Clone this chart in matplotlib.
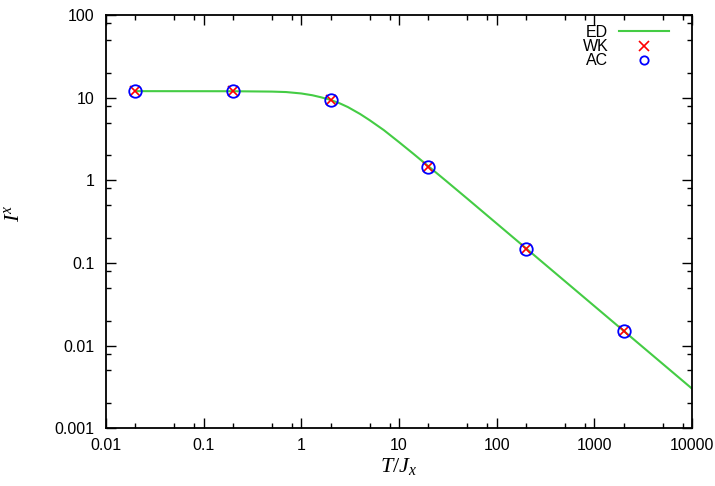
import matplotlib
matplotlib.use("Agg")
import matplotlib.pyplot as plt
from matplotlib.lines import Line2D
from matplotlib.ticker import LogLocator, NullFormatter, FixedLocator, FixedFormatter

# ED curve
ed_T = [0.02, 0.2, 0.5, 0.7, 1.0, 1.3, 1.6, 2.0, 2.5, 3.0, 4.0, 5.0, 7.0,
        10.0, 14.0, 20.0, 30.0, 50.0, 100.0, 200.0, 500.0, 1000.0, 2000.0,
        5000.0, 10000.0]
ed_I = [12.0, 11.97, 11.85, 11.7, 11.25, 10.7, 10.1, 9.4, 8.5, 7.7, 6.35,
        5.35, 4.05, 2.9, 2.1, 1.48, 0.995, 0.6, 0.3, 0.15, 0.06, 0.03,
        0.015, 0.006, 0.003]

# WK and AC points
pts_T = [0.02, 0.2, 2.0, 20.0, 200.0, 2000.0]
wk_I = [12.0, 12.0, 9.4, 1.46, 0.148, 0.0149]
ac_I = [12.0, 12.0, 9.4, 1.46, 0.148, 0.0149]

x_ticks = [0.01, 0.1, 1, 10, 100, 1000, 10000]
x_labels = ["0.01", "0.1", "1", "10", "100", "1000", "10000"]
y_ticks = [0.001, 0.01, 0.1, 1, 10, 100]
y_labels = ["0.001", "0.01", "0.1", "1", "10", "100"]

GREEN = "#44cc44"

plt.rcParams["font.family"] = ["Liberation Sans", "DejaVu Sans"]
plt.rcParams["mathtext.fontset"] = "custom"
plt.rcParams["mathtext.it"] = "Liberation Serif:italic"
plt.rcParams["mathtext.rm"] = "Liberation Serif"

fig = plt.figure(figsize=(7.15, 4.86), dpi=100)
ax = fig.add_axes([0.148, 0.119, 0.820, 0.850])

ax.plot(ed_T, ed_I, color=GREEN, lw=1.5)
ax.plot(pts_T, wk_I, ls="none", marker="x", ms=7, mew=1.2, color="red")
ax.plot(pts_T, ac_I, ls="none", marker="o", ms=9, mew=1.3, mfc="none", mec="blue")

ax.set_xscale("log")
ax.set_yscale("log")
ax.set_xlim(0.01, 10000)
ax.set_ylim(0.001, 100)

ax.xaxis.set_major_locator(FixedLocator(x_ticks))
ax.xaxis.set_major_formatter(FixedFormatter(x_labels))
ax.yaxis.set_major_locator(FixedLocator(y_ticks))
ax.yaxis.set_major_formatter(FixedFormatter(y_labels))
ax.xaxis.set_minor_locator(LogLocator(base=10, subs=[2, 5, 8], numticks=20))
ax.yaxis.set_minor_locator(LogLocator(base=10, subs=[2, 5, 8], numticks=20))
ax.xaxis.set_minor_formatter(NullFormatter())
ax.yaxis.set_minor_formatter(NullFormatter())

ax.tick_params(which="both", direction="in", top=True, right=True,
               labelsize=11.5, width=1.0)
ax.tick_params(axis="x", pad=7)
ax.tick_params(axis="y", pad=8)
ax.tick_params(which="major", length=7)
ax.tick_params(which="minor", length=3.5)
for s in ax.spines.values():
    s.set_linewidth(1.3)

ax.set_xlabel(r"$T/J_x$", fontsize=16, labelpad=2)
ax.set_ylabel(r"$I^x$", fontsize=16)
ax.yaxis.set_label_coords(-0.14, 0.52)

handles = [
    Line2D([], [], color=GREEN, lw=1.5),
    Line2D([], [], ls="none", marker="x", ms=7, mew=1.2, color="red"),
    Line2D([], [], ls="none", marker="o", ms=6, mew=1.3, mfc="none", mec="blue"),
]
fig.legend(handles, ["ED", "WK", "AC"], loc="upper right",
           bbox_to_anchor=(669 / 715, 1 - 25 / 486), frameon=False,
           markerfirst=False, fontsize=11.5, handlelength=3.1,
           labelspacing=-0.05, borderpad=0, borderaxespad=0, handletextpad=0.7)

fig.savefig("out.png", dpi=100)
